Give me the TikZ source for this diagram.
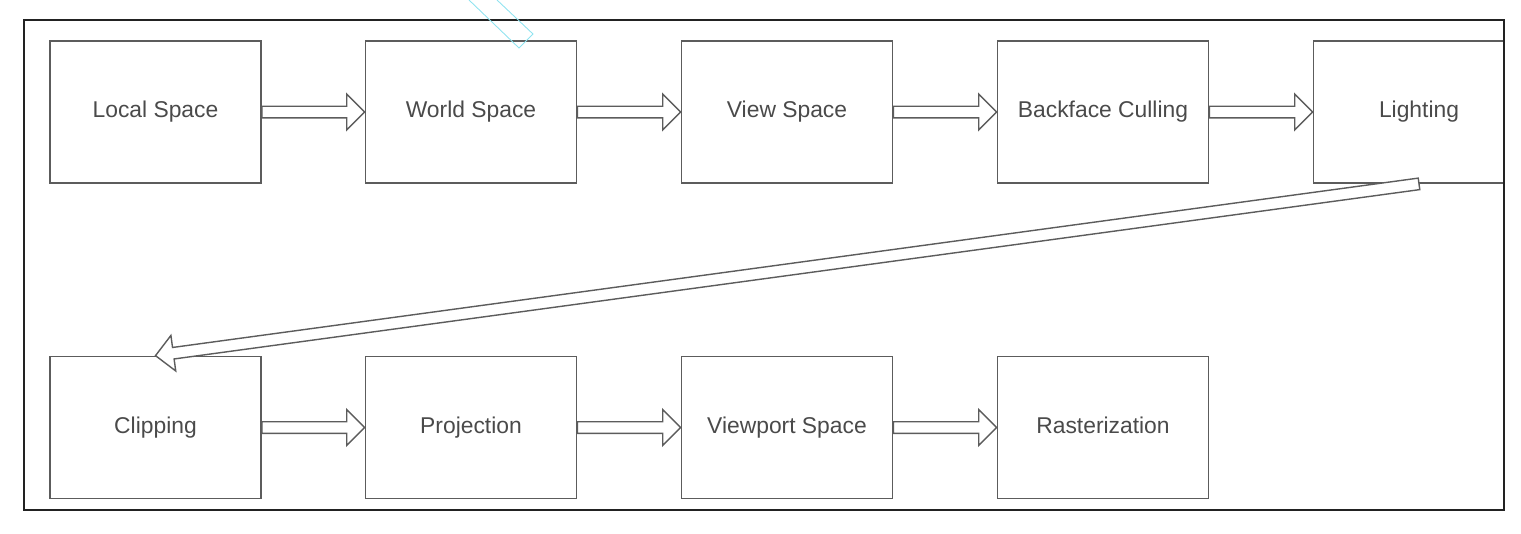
\documentclass[tikz,border=0pt]{standalone}
\usepackage{fontspec}
\setmainfont{Liberation Sans}
\usetikzlibrary{calc}

\definecolor{boxline}{HTML}{5C5C5C}
\definecolor{boxtext}{HTML}{4A4A4A}
\definecolor{frameline}{HTML}{222222}
\definecolor{handle}{HTML}{8FE3F0}

\tikzset{
  stage/.style={draw=boxline, line width=1pt, minimum width=4.22cm,
    minimum height=2.84cm, inner sep=0pt, text=boxtext,
    text height=1.5ex, text depth=0.25ex,
    font=\fontsize{13}{15}\selectfont},
  % hollow block arrow from start to target
  flow/.style={draw=boxline, line width=0.8pt, fill=white,
    to path={let \p1=(\tikztostart), \p2=(\tikztotarget),
      \n1={atan2(\y2-\y1,\x2-\x1)}, \n2={veclen(\x2-\x1,\y2-\y1)} in
      ($(\p1)+(\n1+90:3.3pt)$)
      -- ($(\p1)+(\n1:\n2-10.2pt)+(\n1+90:3.3pt)$)
      -- ($(\p1)+(\n1:\n2-10.2pt)+(\n1+90:10.2pt)$)
      -- (\p2)
      -- ($(\p1)+(\n1:\n2-10.2pt)+(\n1-90:10.2pt)$)
      -- ($(\p1)+(\n1:\n2-10.2pt)+(\n1-90:3.3pt)$)
      -- ($(\p1)+(\n1-90:3.3pt)$) -- cycle}}
}

\begin{document}
\begin{tikzpicture}[x=0.02cm, y=-0.02cm]

\useasboundingbox (0,0) rectangle (1521,534);

% Stages, first row
\node[stage] (local) at (155.5,112) {Local Space};
\node[stage] (world) at (471,112) {World Space};
\node[stage] (view)  at (787,112) {View Space};
\node[stage] (cull)  at (1103,112) {Backface Culling};
\begin{scope}
  \clip (0,0) rectangle (1504,534);
  \node[stage] (light) at (1419,112) {Lighting};
\end{scope}

% Stages, second row
\node[stage] (clip)   at (155.5,427.5) {Clipping};
\node[stage] (proj)   at (471,427.5) {Projection};
\node[stage] (port)   at (787,427.5) {Viewport Space};
\node[stage] (raster) at (1103,427.5) {Rasterization};

% Flow arrows
\draw[flow] (local.east) to (world.west);
\draw[flow] (world.east) to (view.west);
\draw[flow] (view.east) to (cull.west);
\draw[flow] (cull.east) to (light.west);
\draw[flow] (light.south) to (clip.north);
\draw[flow] (clip.east) to (proj.west);
\draw[flow] (proj.east) to (port.west);
\draw[flow] (port.east) to (raster.west);

% Outer frame
\draw[frameline, line width=1.6pt] (24,20) rectangle (1504,510);

% Selection handle left over at the top
\draw[handle, line width=0.5pt] (469,0) -- (519,48) -- (533,34) -- (497,0);

\end{tikzpicture}
\end{document}
